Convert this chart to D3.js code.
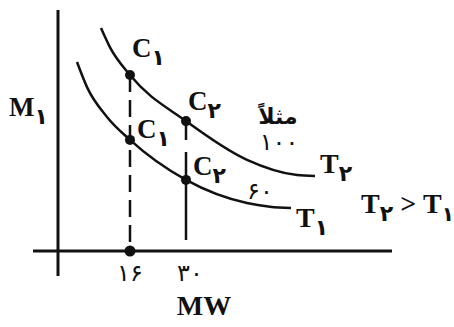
<!DOCTYPE html>
<html lang="fa">
<head>
<meta charset="utf-8">
<title>M1 vs MW</title>
<script src="https://d3js.org/d3.v7.min.js"></script>
<style>
  body { margin: 0; background: #fff; }
  .lat { font-family: "Liberation Serif", "Times New Roman", serif; font-weight: bold; }
  .fa { font-family: "DejaVu Sans", sans-serif; }
</style>
</head>
<body>
<div id="chart"></div>
<script>
// x values (MW) and tick labels
var mwTicks = [16, 30];
var mwTickLabels = ['۱۶', '۳۰'];

// curve T2 (upper) : MW and M1 readings
var t2MW = [8.75, 11, 16, 30, 45.25, 57.75, 62.25];
var t2M = [92.5, 84.5, 73.0, 53.9, 37.8, 31.5, 31.1];

// curve T1 (lower)
var t1MW = [2.75, 5.25, 10.25, 16, 30, 45.25, 51, 56.25];
var t1M = [78.4, 68.0, 55.6, 46.1, 29.5, 19.9, 18.4, 17.8];

// marked points
var pointNames = ['C', 'C', 'C', 'C'];
var pointSubs = ['۱', '۲', '۱', '۲'];
var pointMW = [16, 30, 16, 30];
var pointM = [73.0, 53.9, 46.1, 29.5];

var width = 454, height = 327;

var svg = d3.select('#chart').append('svg')
    .attr('width', width)
    .attr('height', height);

var x = d3.scaleLinear().domain([16, 30]).range([130, 186]);
var y = d3.scaleLinear().domain([0, 100]).range([251, 10]);

// axes
svg.append('line')
    .attr('x1', x(-8.25)).attr('x2', x(81.5))
    .attr('y1', y(0)).attr('y2', y(0))
    .attr('stroke', '#111').attr('stroke-width', 3);
svg.append('line')
    .attr('x1', x(-2)).attr('x2', x(-2))
    .attr('y1', y(100)).attr('y2', y(-10.4))
    .attr('stroke', '#111').attr('stroke-width', 3);

// guide lines
svg.append('line')
    .attr('x1', x(16)).attr('x2', x(16))
    .attr('y1', y(pointM[0])).attr('y2', y(0))
    .attr('stroke', '#111').attr('stroke-width', 2.5)
    .attr('stroke-dasharray', '17,8');
svg.append('line')
    .attr('x1', x(30)).attr('x2', x(30))
    .attr('y1', y(pointM[1])).attr('y2', y(4.6))
    .attr('stroke', '#111').attr('stroke-width', 2.5)
    .attr('stroke-dasharray', '19,12,200');

// curves
var line = d3.line()
    .x(function (d) { return x(d[0]); })
    .y(function (d) { return y(d[1]); })
    .curve(d3.curveMonotoneX);

svg.append('path')
    .datum(d3.zip(t2MW, t2M))
    .attr('d', line)
    .attr('fill', 'none').attr('stroke', '#111').attr('stroke-width', 2.5);
svg.append('path')
    .datum(d3.zip(t1MW, t1M))
    .attr('d', line)
    .attr('fill', 'none').attr('stroke', '#111').attr('stroke-width', 2.5);

// dots
svg.selectAll('.dot')
    .data(d3.zip(pointMW, pointM))
    .enter().append('circle')
    .attr('class', 'dot')
    .attr('cx', function (d) { return x(d[0]); })
    .attr('cy', function (d) { return y(d[1]); })
    .attr('r', 5).attr('fill', '#111');
svg.append('circle')
    .attr('cx', x(16)).attr('cy', y(0)).attr('r', 5.5).attr('fill', '#111');

// subscript helper: Latin letter followed by a lowered Persian digit
function subLabel(px, py, letter, sub, size) {
    var t = svg.append('text').attr('x', px).attr('y', py).attr('fill', '#111');
    t.append('tspan').attr('class', 'lat').attr('font-size', size).text(letter);
    t.append('tspan').attr('class', 'fa').attr('font-size', 22).attr('font-weight', 'bold')
        .attr('dy', 8).text(sub);
    return t;
}

// point labels
var labelOffsets = [[2, -18], [2, -11], [7, -2], [7, -5]];
pointNames.forEach(function (n, i) {
    subLabel(x(pointMW[i]) + labelOffsets[i][0], y(pointM[i]) + labelOffsets[i][1],
        n, pointSubs[i], 27);
});

// tick labels
svg.selectAll('.tick')
    .data(mwTicks)
    .enter().append('text')
    .attr('class', 'fa')
    .attr('x', function (d, i) { return x(d) + (i ? 4 : 0); })
    .attr('y', 281)
    .attr('text-anchor', 'middle')
    .attr('font-size', 24)
    .attr('fill', '#111')
    .text(function (d, i) { return mwTickLabels[i]; });

// axis titles
subLabel(9, 116, 'M', '۱', 27);

svg.append('text').attr('class', 'lat')
    .attr('x', 204).attr('y', 315)
    .attr('text-anchor', 'middle')
    .attr('font-size', 28).attr('fill', '#111')
    .text('MW');

// curve labels
subLabel(x(62.25) + 5, y(31.1) - 3, 'T', '۲', 28);
subLabel(x(56.25) + 5, y(17.8) + 19, 'T', '۱', 28);

var cmp = subLabel(361, 213, 'T', '۲', 28);
cmp.append('tspan').attr('class', 'lat').attr('font-size', 28).attr('dy', -8).text(' > T');
cmp.append('tspan').attr('class', 'fa').attr('font-size', 20).attr('font-weight', 'bold').attr('dy', 8).text('۱');

// example temperatures
svg.append('text').attr('class', 'fa')
    .attr('x', 278).attr('y', 124)
    .attr('text-anchor', 'middle')
    .attr('font-size', 22).attr('font-weight', 'bold').attr('fill', '#111')
    .text('مثلاً');
svg.append('text').attr('class', 'fa')
    .attr('x', 279).attr('y', 150)
    .attr('text-anchor', 'middle')
    .attr('font-size', 24).attr('fill', '#111')
    .text('۱۰۰');
svg.append('text').attr('class', 'fa')
    .attr('x', 260).attr('y', 199)
    .attr('text-anchor', 'middle')
    .attr('font-size', 24).attr('fill', '#111')
    .text('۶۰');
</script>
</body>
</html>
